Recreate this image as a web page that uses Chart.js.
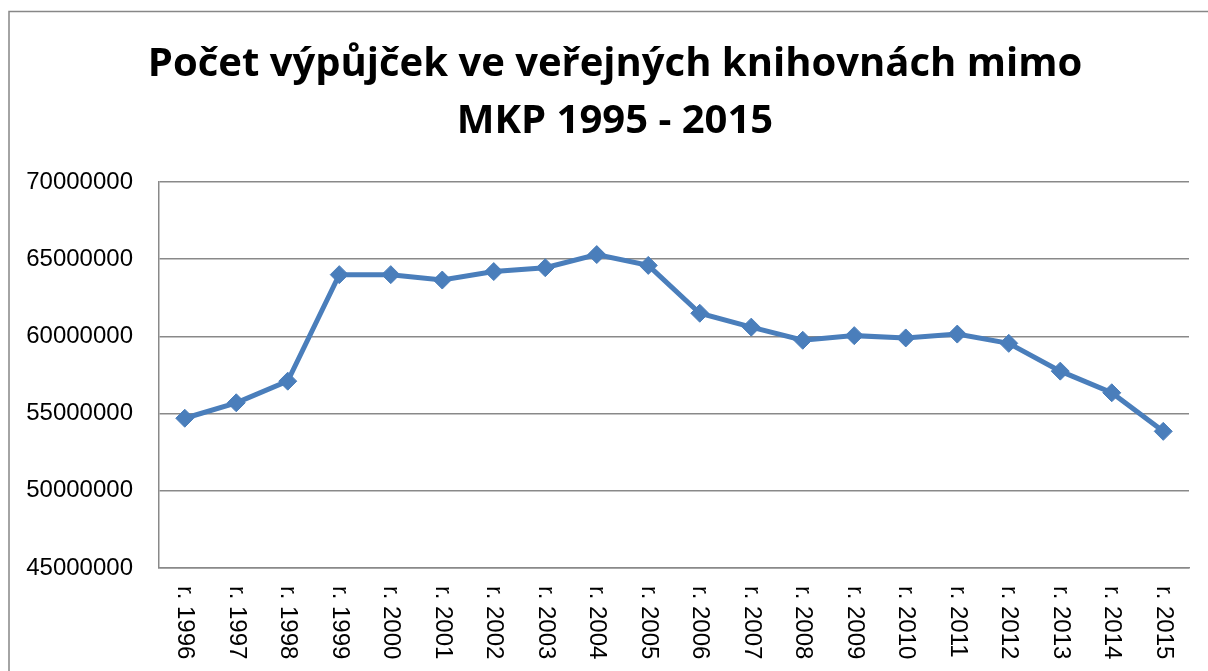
<!DOCTYPE html>
<html>
<head>
<meta charset="utf-8">
<script src="https://cdn.jsdelivr.net/npm/chart.js@4/dist/chart.umd.min.js"></script>
<style>
html,body{margin:0;padding:0;background:#fff;}
#wrap{width:1208px;height:671px;position:relative;}
</style>
</head>
<body>
<div id="wrap"><canvas id="c" width="1208" height="671"></canvas></div>
<script>
const titleLines = ["Počet výpůjček ve veřejných knihovnách mimo", "MKP 1995 - 2015"];
const categories = ["r. 1996","r. 1997","r. 1998","r. 1999","r. 2000","r. 2001","r. 2002","r. 2003","r. 2004","r. 2005","r. 2006","r. 2007","r. 2008","r. 2009","r. 2010","r. 2011","r. 2012","r. 2013","r. 2014","r. 2015"];
const loans = [54700000,55700000,57100000,64000000,64000000,63650000,64200000,64450000,65300000,64600000,61500000,60600000,59750000,60050000,59900000,60150000,59550000,57750000,56350000,53850000];
const yTicks = [45000000,50000000,55000000,60000000,65000000,70000000];

const frame = {
  id: 'frame',
  beforeDraw(chart) {
    const ctx = chart.ctx;
    ctx.save();
    ctx.strokeStyle = '#878787';
    ctx.lineWidth = 1.5;
    ctx.beginPath();
    ctx.moveTo(9, 671);
    ctx.lineTo(9, 11.5);
    ctx.lineTo(1208, 11.5);
    ctx.stroke();
    ctx.restore();
  }
};
const titleDraw = {
  id: 'titleDraw',
  afterDraw(chart) {
    const ctx = chart.ctx;
    ctx.save();
    ctx.fillStyle = '#000';
    ctx.font = 'bold 40px "Open Sans", sans-serif';
    ctx.textAlign = 'center';
    ctx.textBaseline = 'middle';
    titleLines.forEach((t, i) => ctx.fillText(t, 615, 64.5 + i * 57));
    ctx.restore();
  }
};
const xLabels = {
  id: 'xLabels',
  afterDraw(chart) {
    const ctx = chart.ctx;
    const xs = chart.scales.x;
    ctx.save();
    ctx.fillStyle = '#000';
    ctx.font = '24px "Liberation Sans", Arial, sans-serif';
    ctx.textAlign = 'left';
    ctx.textBaseline = 'middle';
    categories.forEach((lab, i) => {
      const x = xs.getPixelForValue(i);
      ctx.save();
      ctx.translate(x, chart.chartArea.bottom + 18);
      ctx.rotate(Math.PI / 2);
      ctx.fillText(lab, 0, 0);
      ctx.restore();
    });
    ctx.restore();
  }
};

new Chart(document.getElementById('c'), {
  type: 'line',
  data: {
    labels: categories,
    datasets: [{
      data: loans,
      borderColor: '#4A7EBB',
      backgroundColor: '#4A7EBB',
      borderWidth: 5,
      tension: 0,
      pointStyle: 'rectRot',
      pointRadius: 9,
      pointBorderWidth: 1,
      pointBackgroundColor: '#4A7EBB',
      pointBorderColor: '#4A7EBB'
    }]
  },
  options: {
    responsive: false,
    animation: false,
    layout: { padding: { left: 0, right: 19, top: 182, bottom: 0 } },
    plugins: {
      legend: { display: false },
      tooltip: { enabled: false },
      title: { display: false }
    },
    scales: {
      x: {
        offset: true,
        grid: { display: false, drawTicks: false },
        border: { display: true, color: '#898989', width: 1.5 },
        ticks: { display: false },
        afterFit(s) { s.height = 103; }
      },
      y: {
        min: 45000000,
        max: 70000000,
        afterBuildTicks(s) { s.ticks = yTicks.map(v => ({ value: v })); },
        grid: { color: '#898989', lineWidth: 1.5, drawTicks: false },
        border: { display: true, color: '#898989', width: 1.5 },
        ticks: {
          color: '#000',
          padding: 26,
          font: { family: '"Liberation Sans", Arial, sans-serif', size: 24 },
          callback: v => String(v)
        },
        afterFit(s) { s.width = 159; }
      }
    }
  },
  plugins: [frame, titleDraw, xLabels]
});
</script>
</body>
</html>
